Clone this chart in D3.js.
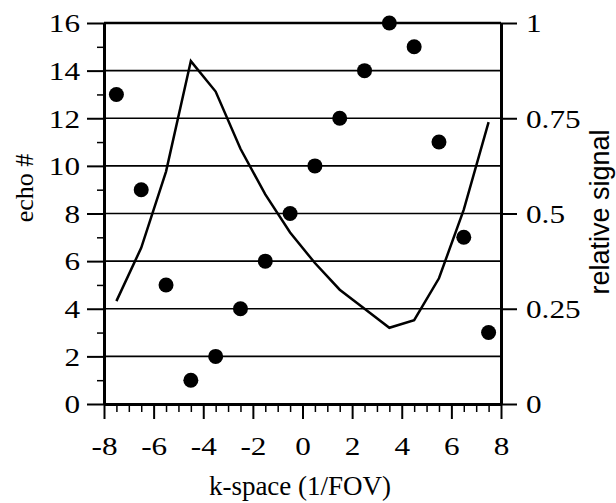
<!DOCTYPE html>
<html>
<head>
<meta charset="utf-8">
<script src="https://cdn.jsdelivr.net/npm/d3@7/dist/d3.min.js"></script>
<style>
  html, body { margin: 0; padding: 0; background: #fff; }
  svg { display: block; }
  .serif { font-family: "Liberation Serif", "Times New Roman", Times, serif; }
  .sans { font-family: "Liberation Sans", Arial, Helvetica, sans-serif; }
</style>
</head>
<body>
<script>
// ---- data ----
const kspace = [-7.5, -6.5, -5.5, -4.5, -3.5, -2.5, -1.5, -0.5, 0.5, 1.5, 2.5, 3.5, 4.5, 5.5, 6.5, 7.5];
const echoNum = [13, 9, 5, 1, 2, 4, 6, 8, 10, 12, 14, 16, 15, 11, 7, 3];
const relSignal = [0.27, 0.41, 0.61, 0.90, 0.82, 0.67, 0.55, 0.45, 0.37, 0.30, 0.25, 0.20, 0.22, 0.33, 0.51, 0.74];
const xTicks = [-8, -6, -4, -2, 0, 2, 4, 6, 8];
const yLeftTicks = [0, 2, 4, 6, 8, 10, 12, 14, 16];
const yRightTicks = [0, 0.25, 0.5, 0.75, 1];
const yRightLabels = ["0", "0.25", "0.5", "0.75", "1"];
const xTitle = "k-space (1/FOV)";
const yLeftTitle = "echo #";
const yRightTitle = "relative signal";

// ---- layout ----
const W = 616, H = 503;
const L = 104, R = 501, T = 23, B = 404;
const tickFont = 26, sx = 1.2;

const svg = d3.select("body").append("svg").attr("width", W).attr("height", H);
svg.append("rect").attr("width", W).attr("height", H).attr("fill", "#fff");

const x = d3.scaleLinear().domain([-8, 8]).range([L, R]);
const yL = d3.scaleLinear().domain([0, 16]).range([B, T]);
const yR = d3.scaleLinear().domain([0, 1]).range([B, T]);

// gridlines
svg.append("g").selectAll("line")
  .data(yLeftTicks.filter(v => v > 0 && v < 16))
  .join("line")
  .attr("x1", L).attr("x2", R)
  .attr("y1", d => yL(d)).attr("y2", d => yL(d))
  .attr("stroke", "#000").attr("stroke-width", 1.6);

// top border
svg.append("line").attr("x1", L).attr("x2", R).attr("y1", yL(16)).attr("y2", yL(16))
  .attr("stroke", "#000").attr("stroke-width", 2.5);

function styleAxis(g, w) {
  g.attr("font-family", null);
  g.select(".domain").attr("stroke", "#000").attr("stroke-width", w);
  g.selectAll(".tick line").attr("stroke", "#000").attr("stroke-width", 2);
  g.selectAll("text").attr("fill", "#000").attr("class", "serif").attr("font-size", tickFont);
}

// minor ticks
const minorX = d3.range(-8, 8.01, 0.5).filter(v => Math.abs(v % 2) > 1e-9);
svg.append("g").attr("transform", `translate(0,${B})`)
  .call(d3.axisBottom(x).tickValues(minorX).tickSize(8).tickFormat(""))
  .call(g => { g.select(".domain").remove(); g.selectAll(".tick line").attr("stroke", "#000").attr("stroke-width", 1.5); });
const minorY = d3.range(1, 16, 2);
svg.append("g").attr("transform", `translate(${L},0)`)
  .call(d3.axisLeft(yL).tickValues(minorY).tickSize(7).tickFormat(""))
  .call(g => { g.select(".domain").remove(); g.selectAll(".tick line").attr("stroke", "#000").attr("stroke-width", 1.5); });

// bottom axis
const gx = svg.append("g").attr("transform", `translate(0,${B})`)
  .call(d3.axisBottom(x).tickValues(xTicks).tickSize(15).tickSizeOuter(0).tickFormat(d3.format("d")));
styleAxis(gx, 3);
gx.selectAll("text").attr("y", 51).attr("dy", 0).attr("transform", `scale(${sx},1)`)
  .text(d => d < 0 ? "-" + Math.abs(d) : d);

// left axis
const gyl = svg.append("g").attr("transform", `translate(${L},0)`)
  .call(d3.axisLeft(yL).tickValues(yLeftTicks).tickSize(17).tickSizeOuter(0));
styleAxis(gyl, 3);
gyl.selectAll("text").attr("x", -24 / sx).attr("dy", "0.34em").attr("transform", `scale(${sx},1)`);

// right axis
const gyr = svg.append("g").attr("transform", `translate(${R},0)`)
  .call(d3.axisRight(yR).tickValues(yRightTicks).tickSize(16).tickSizeOuter(0)
    .tickFormat((d, i) => yRightLabels[i]));
styleAxis(gyr, 3);
gyr.selectAll("text").attr("x", 25 / sx).attr("dy", "0.34em").attr("transform", `scale(${sx},1)`);

// line
const line = d3.line().x((d, i) => x(kspace[i])).y(d => yR(d));
svg.append("path").datum(relSignal).attr("d", line)
  .attr("fill", "none").attr("stroke", "#000").attr("stroke-width", 2.5).attr("stroke-linejoin", "miter");

// dots
svg.append("g").selectAll("circle").data(echoNum).join("circle")
  .attr("cx", (d, i) => x(kspace[i])).attr("cy", d => yL(d)).attr("r", 7.5).attr("fill", "#000");

// titles
svg.append("text").attr("class", "serif").attr("x", 300).attr("y", 495).attr("text-anchor", "middle")
  .attr("font-size", 27).attr("fill", "#000").text(xTitle);
svg.append("text").attr("class", "serif").attr("transform", "translate(33,188) rotate(-90)").attr("text-anchor", "middle")
  .attr("font-size", 26).attr("fill", "#000").text(yLeftTitle);
svg.append("text").attr("class", "sans").attr("transform", "translate(609,212) rotate(-90)").attr("text-anchor", "middle")
  .attr("font-size", 27).attr("fill", "#000").text(yRightTitle);
</script>
</body>
</html>
